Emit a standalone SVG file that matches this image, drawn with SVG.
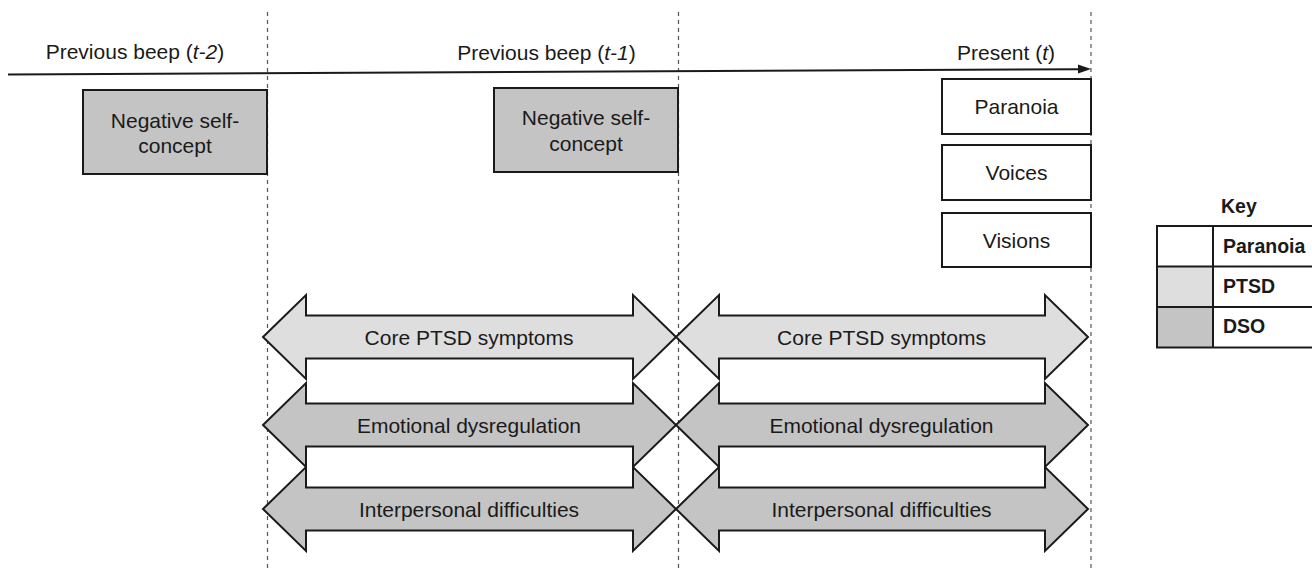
<svg xmlns="http://www.w3.org/2000/svg" width="1312" height="568" viewBox="0 0 1312 568">
<style>
text{font-family:"Liberation Sans",Arial,sans-serif;font-size:21px;fill:#1a1a1a}
.c{text-anchor:middle}
.b{font-weight:bold;font-size:19.5px}
.box{stroke:#1a1a1a;stroke-width:2}
.dso{fill:#c4c4c4}
.ptsd{fill:#dedede}
.par{fill:#ffffff}
.guide{stroke:#555;stroke-width:1.2;stroke-dasharray:4 4;fill:none}
</style>
<rect width="1312" height="568" fill="#fff"/>
<g id="guides">
<line class="guide" x1="267.5" y1="12" x2="267.5" y2="568"/>
<line class="guide" x1="678.5" y1="12" x2="678.5" y2="568"/>
<line class="guide" x1="1091" y1="12" x2="1091" y2="568"/>
</g>
<g id="labels">
<text class="c" x="135" y="59">Previous beep (<tspan font-style="italic">t-2</tspan>)</text>
<text class="c" x="546.5" y="60">Previous beep (<tspan font-style="italic">t-1</tspan>)</text>
<text class="c" x="1006" y="60">Present (<tspan font-style="italic">t</tspan>)</text>
</g>
<g id="connectors">
<line x1="8" y1="74.5" x2="1080" y2="69.2" stroke="#1a1a1a" stroke-width="2"/>
<polygon points="1091,69 1078,64.5 1078,73.5" fill="#1a1a1a"/>
</g>
<g id="nsc-t2">
<rect class="box dso" x="83" y="90" width="184" height="84"/>
<text class="c" x="175" y="128">Negative self-</text>
<text class="c" x="175" y="153">concept</text>
</g>
<g id="nsc-t1">
<rect class="box dso" x="494" y="88" width="184" height="84"/>
<text class="c" x="586" y="125">Negative self-</text>
<text class="c" x="586" y="151">concept</text>
</g>
<g id="paranoia">
<rect class="box par" x="942" y="79" width="149" height="55"/>
<text class="c" x="1016.5" y="114">Paranoia</text>
</g>
<g id="voices">
<rect class="box par" x="942" y="145" width="149" height="55"/>
<text class="c" x="1016.5" y="180">Voices</text>
</g>
<g id="visions">
<rect class="box par" x="942" y="213" width="149" height="54"/>
<text class="c" x="1016.5" y="248">Visions</text>
</g>
<g id="ptsd-t1">
<path class="box ptsd" d="M263,337 L306,295 L306,315.5 L633,315.5 L633,295 L676,337 L633,379 L633,358.5 L306,358.5 L306,379 Z"/>
<text class="c" x="469" y="344.5">Core PTSD symptoms</text>
</g>
<g id="emo-t1">
<path class="box dso" d="M263,425 L306,383 L306,403.5 L633,403.5 L633,383 L676,425 L633,467 L633,446.5 L306,446.5 L306,467 Z"/>
<text class="c" x="469" y="432.5">Emotional dysregulation</text>
</g>
<g id="inter-t1">
<path class="box dso" d="M263,509 L306,467 L306,487.5 L633,487.5 L633,467 L676,509 L633,551 L633,530.5 L306,530.5 L306,551 Z"/>
<text class="c" x="469" y="516.5">Interpersonal difficulties</text>
</g>
<g id="ptsd-t">
<path class="box ptsd" d="M676,337 L719,295 L719,315.5 L1045,315.5 L1045,295 L1088,337 L1045,379 L1045,358.5 L719,358.5 L719,379 Z"/>
<text class="c" x="881.5" y="344.5">Core PTSD symptoms</text>
</g>
<g id="emo-t">
<path class="box dso" d="M676,425 L719,383 L719,403.5 L1045,403.5 L1045,383 L1088,425 L1045,467 L1045,446.5 L719,446.5 L719,467 Z"/>
<text class="c" x="881.5" y="432.5">Emotional dysregulation</text>
</g>
<g id="inter-t">
<path class="box dso" d="M676,509 L719,467 L719,487.5 L1045,487.5 L1045,467 L1088,509 L1045,551 L1045,530.5 L719,530.5 L719,551 Z"/>
<text class="c" x="881.5" y="516.5">Interpersonal difficulties</text>
</g>
<g id="key">
<text class="b" x="1221" y="213">Key</text>
<rect class="par" x="1157" y="226" width="56" height="40.5"/>
<rect class="ptsd" x="1157" y="266.5" width="56" height="40.5"/>
<rect class="dso" x="1157" y="307" width="56" height="40.5"/>
<rect x="1157" y="226" width="170" height="121.5" fill="none" stroke="#1a1a1a" stroke-width="2"/>
<line x1="1213" y1="226" x2="1213" y2="347.5" stroke="#1a1a1a" stroke-width="2"/>
<line x1="1157" y1="266.5" x2="1320" y2="266.5" stroke="#1a1a1a" stroke-width="2"/>
<line x1="1157" y1="307" x2="1320" y2="307" stroke="#1a1a1a" stroke-width="2"/>
<text class="b" x="1223" y="253">Paranoia</text>
<text class="b" x="1223" y="293">PTSD</text>
<text class="b" x="1223" y="333">DSO</text>
</g>
</svg>
